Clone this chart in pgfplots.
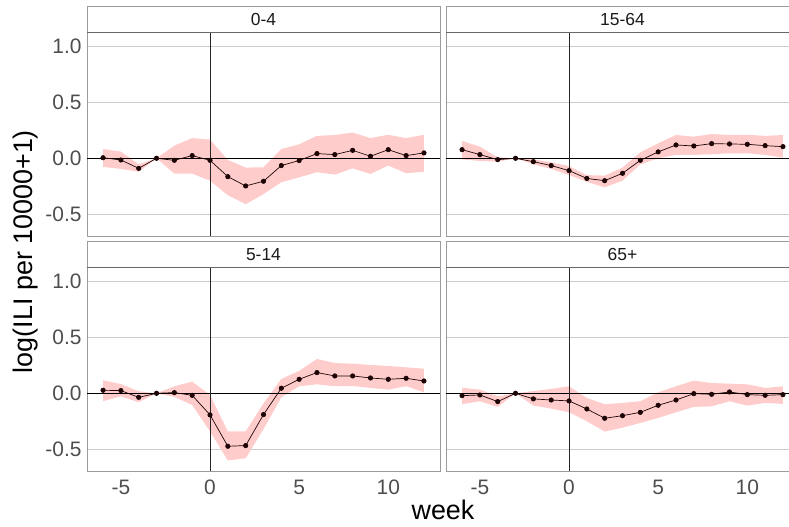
\documentclass[border=0pt]{standalone}
\usepackage{pgfplots}
\pgfplotsset{compat=1.18}
\usepgfplotslibrary{fillbetween}
\usepackage{pgfplotstable}
\usepackage{fontspec}
\setmainfont{Liberation Sans}

\definecolor{ribbon}{RGB}{255,204,204}
\definecolor{tickgray}{RGB}{77,77,77}
\definecolor{border}{RGB}{155,155,155}
\definecolor{gridgray}{RGB}{204,204,204}
\definecolor{stripline}{RGB}{105,105,105}
\definecolor{striptext}{RGB}{26,26,26}
\definecolor{pointcol}{RGB}{30,5,5}

% week, estimate, lower and upper bound of the interval
\pgfplotstableread{
w   est     lo      hi
-6  0.005  -0.077   0.083
-5 -0.015  -0.095   0.060
-4 -0.090  -0.120  -0.054
-3  0.000   0.000   0.000
-2 -0.018  -0.137   0.113
-1  0.024  -0.137   0.180
0  -0.018  -0.200   0.167
1  -0.164  -0.330  -0.015
2  -0.247  -0.410  -0.083
3  -0.205  -0.320  -0.080
4  -0.065  -0.214   0.083
5  -0.020  -0.170   0.125
6   0.042  -0.125   0.200
7   0.033  -0.146   0.208
8   0.071  -0.090   0.230
9   0.018  -0.140   0.180
10  0.077  -0.065   0.210
11  0.024  -0.134   0.180
12  0.048  -0.120   0.210
}\agezerofour

\pgfplotstableread{
w   est     lo      hi
-6  0.077  -0.010   0.155
-5  0.033  -0.024   0.104
-4 -0.012  -0.030   0.009
-3  0.000   0.000   0.000
-2 -0.030  -0.054  -0.010
-1 -0.065  -0.095  -0.036
0  -0.110  -0.150  -0.070
1  -0.180  -0.210  -0.150
2  -0.200  -0.260  -0.155
3  -0.134  -0.200  -0.083
4  -0.018  -0.054   0.054
5   0.057   0.000   0.134
6   0.119   0.030   0.208
7   0.110   0.030   0.193
8   0.131   0.036   0.217
9   0.128   0.045   0.208
10  0.125   0.045   0.210
11  0.113   0.030   0.200
12  0.104   0.006   0.208
}\agefifteen

\pgfplotstableread{
w   est     lo      hi
-6  0.027  -0.071   0.116
-5  0.024  -0.027   0.083
-4 -0.036  -0.080   0.018
-3  0.000   0.000   0.000
-2  0.006  -0.033   0.063
-1 -0.018  -0.104   0.104
0  -0.193  -0.340  -0.015
1  -0.473  -0.600  -0.340
2  -0.467  -0.580  -0.340
3  -0.190  -0.320  -0.090
4   0.045  -0.036   0.128
5   0.125   0.063   0.200
6   0.185   0.080   0.307
7   0.155   0.063   0.270
8   0.155   0.065   0.265
9   0.137   0.048   0.253
10  0.125   0.033   0.244
11  0.134   0.063   0.232
12  0.110   0.009   0.220
}\agefive

\pgfplotstableread{
w   est     lo      hi
-6 -0.021  -0.098   0.050
-5 -0.015  -0.071   0.033
-4 -0.074  -0.122  -0.027
-3  0.000   0.000   0.000
-2 -0.050  -0.110   0.020
-1 -0.060  -0.137   0.039
0  -0.068  -0.170   0.063
1  -0.140  -0.250  -0.042
2  -0.223  -0.342  -0.098
3  -0.200  -0.307  -0.086
4  -0.170  -0.265  -0.071
5  -0.107  -0.220   0.009
6  -0.060  -0.170   0.063
7  -0.003  -0.122   0.113
8  -0.009  -0.116   0.092
9   0.012  -0.071   0.086
10 -0.012  -0.110   0.080
11 -0.018  -0.086   0.048
12 -0.012  -0.095   0.063
}\agesixtyfive

\pgfplotsset{
  panel/.style={
    scale only axis, width=353bp, height=204bp,
    anchor=south west,
    xmin=-6.9, xmax=12.9, ymin=-0.694, ymax=1.128,
    axis line style={border, line width=0.8bp},
    ymajorgrids, grid style={gridgray, line width=1.1bp},
    ytick={-0.5,0,0.5,1}, xtick={-5,0,5,10},
    major tick length=0pt, tick style={draw=none},
    ticklabel style={font=\fontsize{21}{21}\selectfont, text=tickgray, inner sep=0pt},
    xticklabel style={yshift=-9bp},
    yticklabel style={xshift=-5.3bp},
  },
  showy/.style={yticklabels={-0.5,0.0,0.5,1.0}},
  hidey/.style={yticklabel=\empty},
  showx/.style={xticklabels={-5,0,5,10}},
  hidex/.style={xticklabel=\empty},
}

% ribbon, reference lines, and the estimate with its points
\newcommand{\panelbody}[1]{%
  \addplot[name path=upper, draw=none, forget plot] table[x=w, y=hi] {#1};
  \addplot[name path=lower, draw=none, forget plot] table[x=w, y=lo] {#1};
  \addplot[ribbon, draw=none] fill between[of=upper and lower];
  \addplot[black, line width=0.9bp] coordinates {(-6.9,0) (12.9,0)};
  \addplot[black!85, line width=0.9bp] coordinates {(0,-0.694) (0,1.128)};
  \addplot[pointcol, line width=0.7bp, mark=*, mark size=2.2bp,
           mark options={fill=pointcol, draw=pointcol}] table[x=w, y=est] {#1};
}

\newcommand{\strip}[5]{%
  \draw[border, line width=0.8bp, fill=white] (#1bp,#2bp) rectangle (#3bp,#4bp);
  \draw[stripline, line width=0.9bp] (#1bp,#2bp) -- (#3bp,#2bp);
  \node[font=\fontsize{17.5}{17.5}\selectfont, text=striptext, inner sep=0pt]
       at ({(#1+#3)/2*1bp},{(#2+#4)/2*1bp}) {#5};
}

\begin{document}
\begin{tikzpicture}
\path (0,0) rectangle (789bp,527bp);

\begin{axis}[panel, showy, hidex, at={(87bp,291bp)}]
  \panelbody{\agezerofour}
\end{axis}
\begin{axis}[panel, hidey, hidex, at={(446bp,291bp)}]
  \panelbody{\agefifteen}
\end{axis}
\begin{axis}[panel, showy, showx, at={(87bp,56bp)}]
  \panelbody{\agefive}
\end{axis}
\begin{axis}[panel, hidey, showx, at={(446bp,56bp)}]
  \panelbody{\agesixtyfive}
\end{axis}

\strip{87}{495}{440}{521}{0-4}
\strip{446}{495}{799}{521}{15-64}
\strip{87}{259.7}{440}{285.3}{5-14}
\strip{446}{259.7}{799}{285.3}{65+}

\node[rotate=90, anchor=base, font=\fontsize{27}{27}\selectfont]
     at (32bp,275.5bp) {log(ILI per 10000+1)};
\node[anchor=base, font=\fontsize{27}{27}\selectfont]
     at (443bp,8bp) {week};

\pgfresetboundingbox
\path[use as bounding box] (0,0) rectangle (789bp,527bp);
\end{tikzpicture}
\end{document}
